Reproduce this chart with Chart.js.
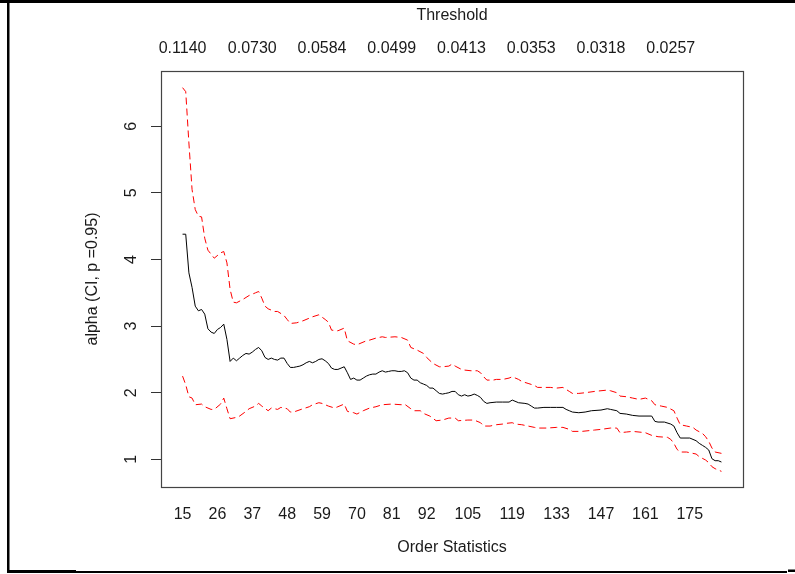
<!DOCTYPE html>
<html lang="en">
<head>
  <meta charset="UTF-8">
  <title>Hill plot</title>
  <script src="https://cdn.jsdelivr.net/npm/chart.js"></script>
  <style>
    body { margin: 0; background: #fff; overflow: hidden; }
    canvas { display: block; }
  </style>
</head>
<body>
  <canvas id="hill" width="795" height="574"></canvas>

  <script>
    // Hill estimate of alpha by number of order statistics
    const hillK = [15, 16, 17, 18, 19, 20, 21, 22, 23, 24, 25, 26, 27, 28, 29, 30, 31, 32, 33, 34, 35, 36, 37, 38, 39, 40,
      41, 42, 43, 44, 45, 46, 47, 48, 49, 50, 51, 52, 53, 54, 55, 56, 57, 58, 59, 60, 61, 62, 63, 64, 65, 66, 67, 68, 69, 70,
      71, 72, 73, 74, 75, 76, 77, 78, 79, 80, 81, 82, 83, 84, 85, 86, 87, 88, 89, 90, 91, 92, 93, 94, 95, 96, 97, 98, 99, 100,
      101, 102, 103, 104, 105, 106, 107, 108, 109, 110, 111, 112, 114, 116, 118, 119, 121, 123, 124, 125, 126, 127, 129, 131,
      133, 135, 136, 137, 138, 140, 142, 144, 147, 149, 150, 152, 153, 155, 157, 159, 163, 164, 165, 167, 169, 170, 171, 172,
      175, 177, 178, 179, 180, 181, 182, 183, 184, 185];
    const hillAlpha = [4.38, 4.38, 3.80, 3.58, 3.30, 3.23, 3.25, 3.18, 2.96, 2.91, 2.89, 2.95, 2.98, 3.03, 2.80, 2.47, 2.52, 2.48, 2.52, 2.56, 2.59, 2.58, 2.61, 2.65, 2.68, 2.63,
      2.53, 2.50, 2.52, 2.50, 2.49, 2.52, 2.52, 2.44, 2.38, 2.38, 2.39, 2.40, 2.42, 2.45, 2.47, 2.45, 2.47, 2.50, 2.51, 2.48, 2.44, 2.37, 2.35, 2.35, 2.37, 2.39, 2.30, 2.20, 2.22, 2.19,
      2.19, 2.22, 2.25, 2.27, 2.28, 2.28, 2.31, 2.33, 2.31, 2.32, 2.33, 2.33, 2.32, 2.32, 2.33, 2.30, 2.22, 2.19, 2.19, 2.15, 2.13, 2.11, 2.07, 2.07, 2.03, 1.99, 1.98, 1.99, 2.00, 2.02,
      2.02, 1.97, 1.95, 1.97, 1.95, 1.96, 1.98, 1.96, 1.93, 1.87, 1.84, 1.85, 1.86, 1.86, 1.86, 1.89, 1.85, 1.84, 1.83, 1.80, 1.77, 1.77, 1.78, 1.78,
      1.78, 1.78, 1.75, 1.73, 1.71, 1.70, 1.71, 1.73, 1.74, 1.76, 1.75, 1.73, 1.69, 1.68, 1.66, 1.65, 1.65, 1.57, 1.56, 1.56, 1.53, 1.50, 1.40, 1.32,
      1.32, 1.28, 1.24, 1.21, 1.18, 1.14, 1.01, 0.98, 0.98, 0.96];

    // upper bound of the 95% interval
    const upperK = [15, 16, 17, 18, 19, 20, 21, 22, 23, 24, 25, 27, 28, 29, 30, 31, 32, 34, 36, 38, 39, 40, 41, 42, 44, 45,
      47, 48, 49, 51, 53, 55, 56, 58, 60, 61, 62, 64, 66, 67, 69, 70, 73, 74, 76, 78, 79, 82, 84, 86, 87, 89, 91, 92, 94, 96,
      97, 99, 100, 101, 103, 104, 106, 108, 109, 110, 111, 113, 114, 116, 118, 119, 121, 122, 124, 126, 127, 129, 131, 133,
      135, 137, 138, 140, 142, 145, 147, 149, 150, 152, 153, 155, 157, 159, 161, 163, 164, 166, 168, 170, 171, 172, 174, 176,
      177, 179, 180, 181, 182, 183, 185];
    const upperAlpha = [6.58, 6.52, 5.75, 5.05, 4.75, 4.65, 4.64, 4.32, 4.14, 4.08, 4.02, 4.10, 4.12, 3.95, 3.55, 3.36, 3.35, 3.40, 3.46, 3.50, 3.52, 3.42, 3.30, 3.26, 3.22, 3.22,
      3.16, 3.10, 3.04, 3.05, 3.08, 3.12, 3.14, 3.17, 3.10, 3.06, 2.94, 2.93, 2.97, 2.78, 2.73, 2.72, 2.78, 2.79, 2.82, 2.84, 2.83, 2.84, 2.83, 2.79, 2.68, 2.64, 2.59, 2.53, 2.44, 2.39,
      2.39, 2.40, 2.43, 2.40, 2.35, 2.34, 2.33, 2.33, 2.30, 2.24, 2.19, 2.19, 2.20, 2.20, 2.22, 2.24, 2.20, 2.17, 2.14, 2.11, 2.08, 2.08, 2.08, 2.07,
      2.08, 2.02, 1.99, 1.99, 2.00, 2.02, 2.03, 2.04, 2.03, 2.00, 1.95, 1.94, 1.92, 1.90, 1.92, 1.88, 1.82, 1.80, 1.78, 1.73, 1.62, 1.52, 1.50, 1.48,
      1.44, 1.39, 1.34, 1.27, 1.17, 1.11, 1.09];

    // lower bound of the 95% interval
    const lowerK = [15, 16, 17, 18, 19, 21, 22, 24, 25, 27, 28, 29, 30, 32, 33, 35, 36, 38, 39, 40, 42, 43, 45, 46, 48, 49,
      50, 53, 55, 56, 58, 59, 61, 63, 64, 66, 67, 69, 70, 72, 74, 76, 78, 81, 84, 85, 87, 88, 90, 91, 93, 95, 97, 99, 101, 102,
      105, 107, 109, 110, 112, 114, 116, 117, 119, 120, 122, 124, 126, 127, 130, 133, 135, 137, 138, 141, 145, 147, 150, 152,
      153, 155, 157, 159, 161, 163, 165, 168, 169, 170, 171, 172, 174, 176, 177, 178, 180, 181, 182, 183, 185];
    const lowerAlpha = [2.25, 2.12, 1.94, 1.92, 1.82, 1.83, 1.79, 1.75, 1.75, 1.83, 1.92, 1.76, 1.61, 1.63, 1.65, 1.72, 1.76, 1.80, 1.84, 1.80, 1.73, 1.77, 1.75, 1.78, 1.76, 1.71,
      1.71, 1.76, 1.79, 1.82, 1.85, 1.84, 1.80, 1.77, 1.79, 1.83, 1.72, 1.70, 1.68, 1.73, 1.77, 1.79, 1.82, 1.83, 1.82, 1.83, 1.76, 1.73, 1.73, 1.69, 1.65, 1.58, 1.59, 1.62, 1.62, 1.58,
      1.59, 1.59, 1.55, 1.50, 1.50, 1.52, 1.53, 1.54, 1.55, 1.53, 1.52, 1.50, 1.48, 1.47, 1.47, 1.48, 1.48, 1.45, 1.42, 1.42, 1.44, 1.45, 1.47, 1.47,
      1.40, 1.41, 1.42, 1.41, 1.40, 1.36, 1.34, 1.33, 1.30, 1.24, 1.15, 1.11, 1.11, 1.09, 1.08, 1.04, 0.99, 0.95, 0.89, 0.86, 0.82];

    // axis labels
    const orderTicks = [15, 26, 37, 48, 59, 70, 81, 92, 105, 119, 133, 147, 161, 175];
    const thresholdAt = [15, 37, 59, 81, 103, 125, 147, 169];
    const thresholdLabels = ['0.1140', '0.0730', '0.0584', '0.0499', '0.0413', '0.0353', '0.0318', '0.0257'];
    const alphaTicks = [1, 2, 3, 4, 5, 6];

    const toPoints = (ks, vals) => ks.map((k, i) => ({ x: k, y: vals[i] }));

    const FONT = { family: "'Liberation Sans', Arial, sans-serif", size: 16 };
    const INK = '#1a1a1a';

    // white page, plot box and the outer frame lines
    const framePlugin = {
      id: 'frame',
      beforeDraw(chart) {
        const ctx = chart.ctx;
        ctx.save();
        ctx.fillStyle = '#fff';
        ctx.fillRect(0, 0, chart.width, chart.height);
        ctx.restore();
      },
      afterDraw(chart) {
        const { ctx, chartArea: a } = chart;
        ctx.save();
        ctx.strokeStyle = '#444';
        ctx.lineWidth = 1.2;
        ctx.strokeRect(a.left + 0.5, a.top + 0.5, a.right - a.left, a.bottom - a.top);

        ctx.fillStyle = '#000';
        ctx.fillRect(0, 0, 795, 3);       // top
        ctx.fillRect(7, 0, 2.5, 573);     // left
        ctx.fillRect(7, 570, 69, 3);      // bottom, heavy part
        ctx.fillRect(76, 571, 711, 2);    // bottom, rest
        ctx.fillRect(788, 569.5, 7, 2.5);
        ctx.restore();
      }
    };

    new Chart(document.getElementById('hill'), {
      type: 'line',
      data: {
        datasets: [
          {
            label: 'alpha',
            data: toPoints(hillK, hillAlpha),
            borderColor: '#000',
            borderWidth: 1,
            pointRadius: 0,
            tension: 0
          },
          {
            label: 'upper',
            data: toPoints(upperK, upperAlpha),
            borderColor: '#ff0000',
            borderWidth: 1,
            borderDash: [7, 4],
            pointRadius: 0,
            tension: 0
          },
          {
            label: 'lower',
            data: toPoints(lowerK, lowerAlpha),
            borderColor: '#ff0000',
            borderWidth: 1,
            borderDash: [7, 4],
            pointRadius: 0,
            tension: 0
          }
        ]
      },
      options: {
        responsive: false,
        animation: false,
        layout: { padding: { left: 0, top: 0, right: 52, bottom: 0 } },
        plugins: {
          legend: { display: false },
          tooltip: { enabled: false }
        },
        scales: {
          x: {
            type: 'linear',
            position: 'bottom',
            min: 8.2,
            max: 191.8,
            afterBuildTicks: s => { s.ticks = orderTicks.map(v => ({ value: v })); },
            afterFit: s => { s.height = 87; },
            grid: { display: false, drawTicks: false },
            border: { display: false },
            ticks: {
              autoSkip: false, maxRotation: 0, minRotation: 0,
              padding: 18, color: INK, font: FONT,
              callback: v => String(v)
            },
            title: {
              display: true, text: 'Order Statistics', color: INK, font: FONT,
              padding: { top: 0, bottom: 17 }
            }
          },
          x2: {
            type: 'linear',
            position: 'top',
            min: 8.2,
            max: 191.8,
            afterBuildTicks: s => { s.ticks = thresholdAt.map(v => ({ value: v })); },
            afterFit: s => { s.height = 71; },
            grid: { display: false, drawTicks: false },
            border: { display: false },
            ticks: {
              autoSkip: false, maxRotation: 0, minRotation: 0,
              padding: 13, color: INK, font: FONT,
              callback: v => thresholdLabels[thresholdAt.indexOf(v)]
            },
            title: {
              display: true, text: 'Threshold', color: INK, font: FONT,
              padding: { top: 6, bottom: 0 }
            }
          },
          y: {
            type: 'linear',
            position: 'left',
            min: 0.585,
            max: 6.83,
            afterBuildTicks: s => { s.ticks = alphaTicks.map(v => ({ value: v })); },
            afterFit: s => { s.width = 161; },
            grid: { drawOnChartArea: false, drawTicks: true, tickLength: 10, tickColor: '#333' },
            border: { display: false },
            ticks: {
              minRotation: 90, maxRotation: 90, crossAlign: 'center',
              padding: 15, color: INK, font: FONT
            },
            title: {
              display: true, text: 'alpha (CI, p =0.95)', color: INK, font: FONT,
              padding: { top: 83, bottom: 0 }
            }
          }
        }
      },
      plugins: [framePlugin]
    });
  </script>
</body>
</html>
